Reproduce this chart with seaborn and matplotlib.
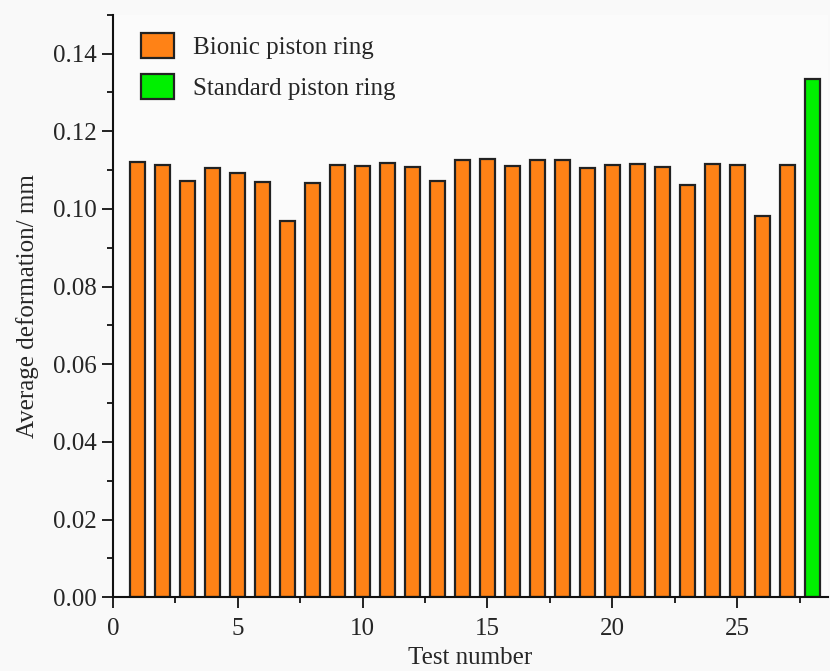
import pandas as pd
import matplotlib
matplotlib.use('Agg')
import matplotlib.pyplot as plt
from matplotlib.ticker import MultipleLocator, FormatStrFormatter
import seaborn as sns

# data
test_no = list(range(1, 29))
deform = [0.1122, 0.1113, 0.1071, 0.1105, 0.1092, 0.1070, 0.0969, 0.1066, 0.1113, 0.1111,
          0.1119, 0.1109, 0.1073, 0.1127, 0.1128, 0.1111, 0.1125, 0.1125, 0.1105, 0.1113,
          0.1116, 0.1107, 0.1061, 0.1116, 0.1113, 0.0981, 0.1113, 0.1334]
ring = ['Bionic piston ring'] * 27 + ['Standard piston ring']
colors = {'Bionic piston ring': '#ff8216', 'Standard piston ring': '#00f000'}

df = pd.DataFrame({'test': test_no, 'deform': deform, 'ring': ring})

sns.set_style('ticks')
plt.rcParams['font.family'] = ['Liberation Serif', 'DejaVu Serif']

fig = plt.figure(figsize=(8.3, 6.71), dpi=100, facecolor='#f9f9f9')
ax = fig.add_axes([0.136, 0.110, 0.862, 0.868])
ax.set_facecolor('#fbfbfb')

sns.barplot(data=df, x='test', y='deform', hue='ring', palette=colors,
            native_scale=True, dodge=False, width=0.6, saturation=1,
            edgecolor='#222222', linewidth=1.6, ax=ax)

ax.set_xlim(0, 28.65)
ax.set_ylim(0, 0.15)
ax.xaxis.set_major_locator(MultipleLocator(5))
ax.xaxis.set_minor_locator(MultipleLocator(2.5))
ax.yaxis.set_major_locator(MultipleLocator(0.02))
ax.yaxis.set_minor_locator(MultipleLocator(0.01))
ax.yaxis.set_major_formatter(FormatStrFormatter('%.2f'))
ax.xaxis.set_major_formatter(FormatStrFormatter('%d'))
ax.tick_params(which='major', direction='out', length=8, width=1.3, labelsize=18, color='#111111')
ax.tick_params(which='minor', direction='out', length=4.5, width=1.3, color='#111111')
ax.tick_params(axis='x', which='major', pad=7)
sns.despine(ax=ax)
for s in ['left', 'bottom']:
    ax.spines[s].set_linewidth(1.5)
    ax.spines[s].set_color('#111111')

ax.set_xlabel('Test number', fontsize=18, labelpad=5)
ax.set_ylabel('Average deformation/ mm', fontsize=18, labelpad=10)

ax.legend(loc='upper left', bbox_to_anchor=(0.04, 0.968), frameon=False, fontsize=18,
          handlelength=1.3, handleheight=1.15, handletextpad=0.75, labelspacing=0.6,
          borderaxespad=0, borderpad=0)

fig.savefig('out.png', dpi=100, facecolor=fig.get_facecolor())
